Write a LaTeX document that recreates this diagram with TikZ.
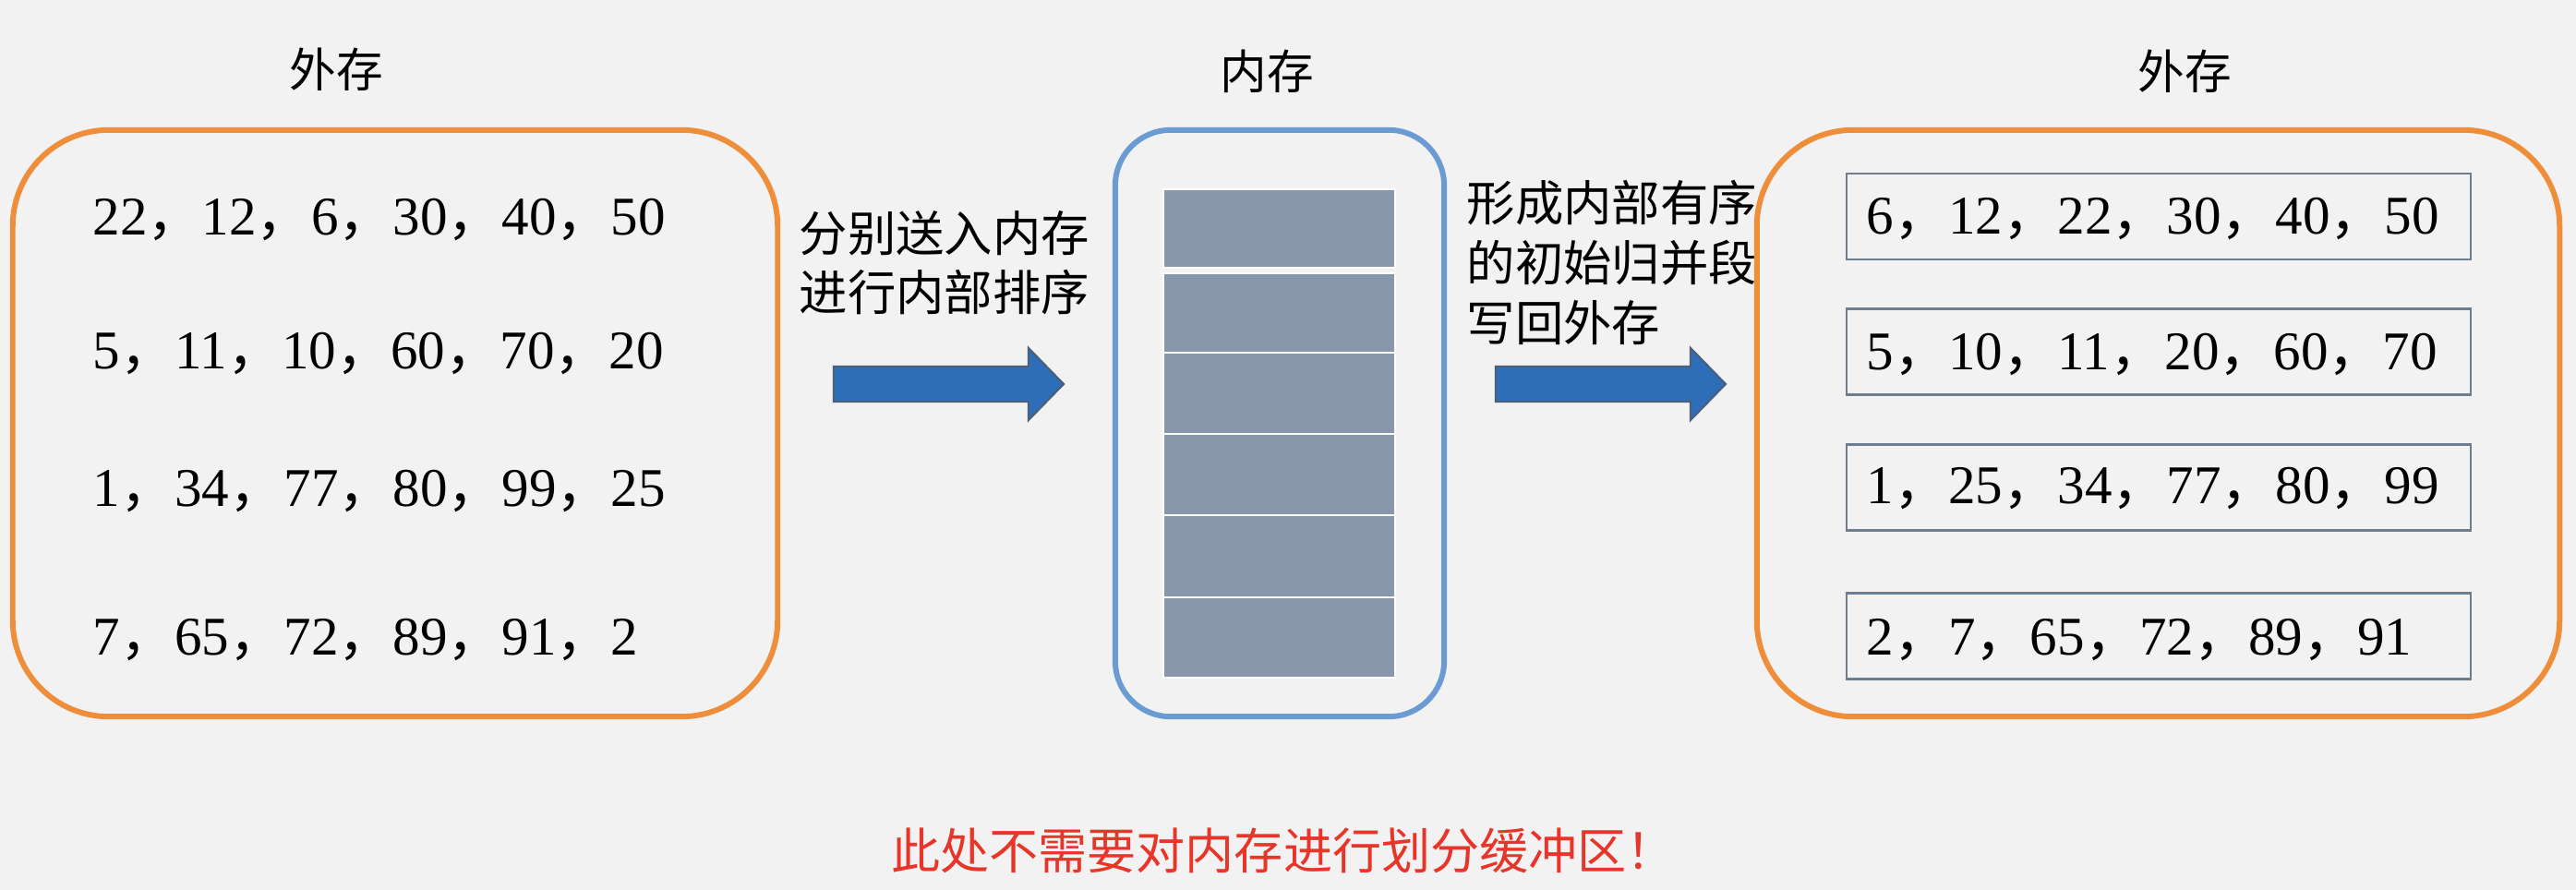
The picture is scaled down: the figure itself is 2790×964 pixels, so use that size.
\documentclass[tikz,border=0pt]{standalone}
\usepackage{fontspec}
\setmainfont{Liberation Serif}
\newfontfamily\cjk{Noto Sans CJK SC}
\definecolor{bg}{HTML}{F2F2F2}
\definecolor{orangeline}{HTML}{EE8D3A}
\definecolor{blueline}{HTML}{6A9BD3}
\definecolor{cellfill}{RGB}{137,151,172}
\definecolor{arrowfill}{HTML}{2E6DB8}
\definecolor{arrowline}{HTML}{4B5E7A}
\definecolor{rowline}{HTML}{6F7E8E}
\definecolor{warnred}{HTML}{E8352A}
\newcommand{\zc}{{\cjk ，}}
\begin{document}
\begin{tikzpicture}[x=0.01cm,y=-0.01cm,
  title/.style={font=\cjk\fontsize{14.4pt}{17pt}\selectfont, inner sep=0, anchor=base},
  nums/.style={font=\fontsize{16.8pt}{20pt}\selectfont, anchor=base west, inner sep=0},
  lbl/.style={font=\cjk\fontsize{14.9pt}{18.5pt}\selectfont, inner sep=0, anchor=base west},
  extbox/.style={draw=orangeline, line width=1.7pt, rounded corners=1.04cm, inner sep=0, minimum height=6.35cm},
  membox/.style={draw=blueline, line width=1.7pt, rounded corners=0.6cm, inner sep=0, minimum width=3.56cm, minimum height=6.35cm},
  cell/.style={fill=cellfill, draw=white, line width=0.6pt},
  rowbox/.style={draw=rowline, line width=0.7pt, inner sep=0, minimum width=6.76cm, minimum height=0.93cm},
  blockarrow/.style={fill=arrowfill, draw=arrowline, line width=0.6pt},
  warn/.style={font=\cjk\fontsize{15.1pt}{19pt}\selectfont, text=warnred, inner sep=0, anchor=base}
]
\fill[bg] (0,0) rectangle (2790,964);
\useasboundingbox (0,0) rectangle (2790,964);

% titles
\node[title] (t1) at (364,95) {外存};
\node[title] (t2) at (1372,97) {内存};
\node[title] (t3) at (2366,97) {外存};

% left external storage
\node[extbox, minimum width=8.28cm] (ext1) at (428,458.5) {};
\node[nums] (l1) at (100,255) {22\zc12\zc6\zc30\zc40\zc50};
\node[nums] (l2) at (100,400) {5\zc11\zc10\zc60\zc70\zc20};
\node[nums] (l3) at (100,548) {1\zc34\zc77\zc80\zc99\zc25};
\node[nums] (l4) at (100,709) {7\zc65\zc72\zc89\zc91\zc2};

% memory
\node[membox] (mem) at (1386,458.5) {};
\path[cell] (1260,205) rectangle (1511,290);
\path[cell] (1260,296) rectangle (1511,382);
\path[cell] (1260,382) rectangle (1511,470);
\path[cell] (1260,470) rectangle (1511,558);
\path[cell] (1260,558) rectangle (1511,647);
\path[cell] (1260,647) rectangle (1511,734);

% arrows
\path[blockarrow] (903,397) -- (1114,397) -- (1114,377) -- (1152,416) -- (1114,455) -- (1114,435) -- (903,435) -- cycle;
\path[blockarrow] (1620,397) -- (1831,397) -- (1831,377) -- (1869,416) -- (1831,455) -- (1831,435) -- (1620,435) -- cycle;

% labels
\node[lbl] (a1) at (865,273) {分别送入内存};
\node[lbl] (a2) at (865,337) {进行内部排序};
\node[lbl] (b1) at (1588,240) {形成内部有序};
\node[lbl] (b2) at (1588,305) {的初始归并段};
\node[lbl] (b3) at (1588,370) {写回外存};

% right external storage
\node[extbox, minimum width=8.69cm] (ext2) at (2337.5,458.5) {};
\node[rowbox] (r1) at (2338,234.5) {};
\node[rowbox] (r2) at (2338,381) {};
\node[rowbox] (r3) at (2338,528) {};
\node[rowbox] (r4) at (2338,689) {};
\node[nums] (n1) at (2021,254) {6\zc12\zc22\zc30\zc40\zc50};
\node[nums] (n2) at (2021,401) {5\zc10\zc11\zc20\zc60\zc70};
\node[nums] (n3) at (2021,546) {1\zc25\zc34\zc77\zc80\zc99};
\node[nums] (n4) at (2021,709) {2\zc7\zc65\zc72\zc89\zc91};

% warning
\node[warn] (w) at (1390,941) {此处不需要对内存进行划分缓冲区！};
\end{tikzpicture}
\end{document}
